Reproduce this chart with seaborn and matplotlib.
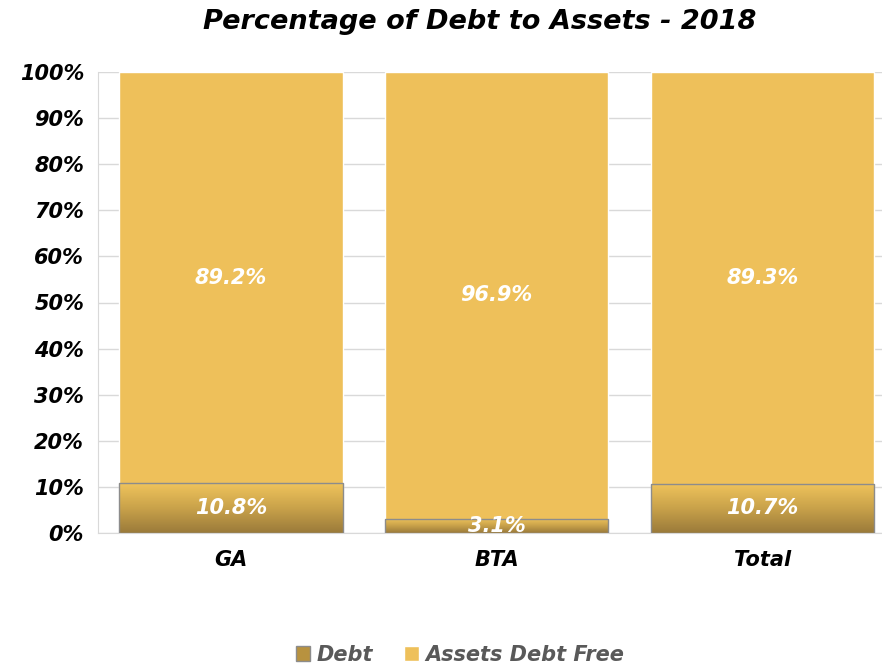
import seaborn as sns
import matplotlib.pyplot as plt
import matplotlib.patches as mpatches
import numpy as np
import pandas as pd

categories = ['GA', 'BTA', 'Total']
debt = [10.8, 3.1, 10.7]
debtFree = [89.2, 96.9, 89.3]

sns.set_style('white')
plt.rcParams['font.family'] = ['DejaVu Sans']

df = pd.DataFrame({'category': categories, 'debt': debt, 'free': debtFree})
df['total'] = df['debt'] + df['free']

fig = plt.figure(figsize=(8.82, 6.65), dpi=100)
ax = fig.add_axes([98 / 882, 1 - 533 / 665, (882 - 98) / 882, 461 / 665])

gold = '#EEC05A'
sns.barplot(data=df, x='category', y='total', color=gold, width=0.84,
            saturation=1, ax=ax, zorder=2)
nFree = len(ax.patches)
sns.barplot(data=df, x='category', y='debt', color='#C9A24A', width=0.84,
            saturation=1, ax=ax, zorder=3)

# gradient fill on the debt segments
grad = np.linspace(0, 1, 256).reshape(-1, 1)
cmap = sns.blend_palette(['#9A7A3A', '#C9A24A', '#F0C45C'], as_cmap=True)
for p in ax.patches[nFree:]:
    x0, y0 = p.get_x(), p.get_y()
    w, h = p.get_width(), p.get_height()
    p.set_edgecolor('#8C8C8C')
    p.set_linewidth(1)
    p.set_facecolor('none')
    im = ax.imshow(grad, extent=[x0, x0 + w, y0, y0 + h], origin='lower',
                   cmap=cmap, aspect='auto', zorder=2.5)
    im.set_clip_path(p)

ax.set_xlim(-0.5, 2.45)
ax.set_ylim(0, 100)
ax.set_aspect('auto')

labelFont = dict(fontsize=15, fontweight='bold', fontstyle='italic', color='white')
for i in range(len(categories)):
    ax.text(i, debt[i] / 2, f'{debt[i]:.1f}%', ha='center', va='center', zorder=5, **labelFont)
    ax.text(i, debt[i] + debtFree[i] / 2, f'{debtFree[i]:.1f}%', ha='center', va='center', zorder=5, **labelFont)

ax.set_yticks(np.arange(0, 101, 10))
ax.set_yticklabels([f'{v}%' for v in range(0, 101, 10)])
ax.yaxis.grid(True, color='#D9D9D9', linewidth=1, zorder=0)
ax.tick_params(axis='y', length=6, color='#D9D9D9', pad=4)
ax.tick_params(axis='x', length=0, pad=12)
for lbl in ax.get_xticklabels() + ax.get_yticklabels():
    lbl.set_fontsize(15)
    lbl.set_fontweight('bold')
    lbl.set_fontstyle('italic')
    lbl.set_color('black')

for s in ['top', 'right']:
    ax.spines[s].set_visible(False)
ax.spines['left'].set_color('#D9D9D9')
ax.spines['bottom'].set_color('#D9D9D9')
ax.set_xlabel('')
ax.set_ylabel('')

fig.text(480 / 882, 1 - 22 / 665, 'Percentage of Debt to Assets - 2018', ha='center', va='center',
         fontsize=19.5, fontweight='bold', fontstyle='italic', color='black')

handles = [mpatches.Patch(facecolor='#B8923F', edgecolor='#8C8C8C', label='Debt'),
           mpatches.Patch(facecolor=gold, label='Assets Debt Free')]
fig.legend(handles=handles, loc='center', bbox_to_anchor=(460 / 882, 1 - 655 / 665), ncol=2,
           frameon=False, handlelength=0.7, handleheight=0.7, handletextpad=0.3, columnspacing=1.5,
           prop=dict(size=15, weight='bold', style='italic'), labelcolor='#595959')

fig.savefig('out.png', dpi=100)
